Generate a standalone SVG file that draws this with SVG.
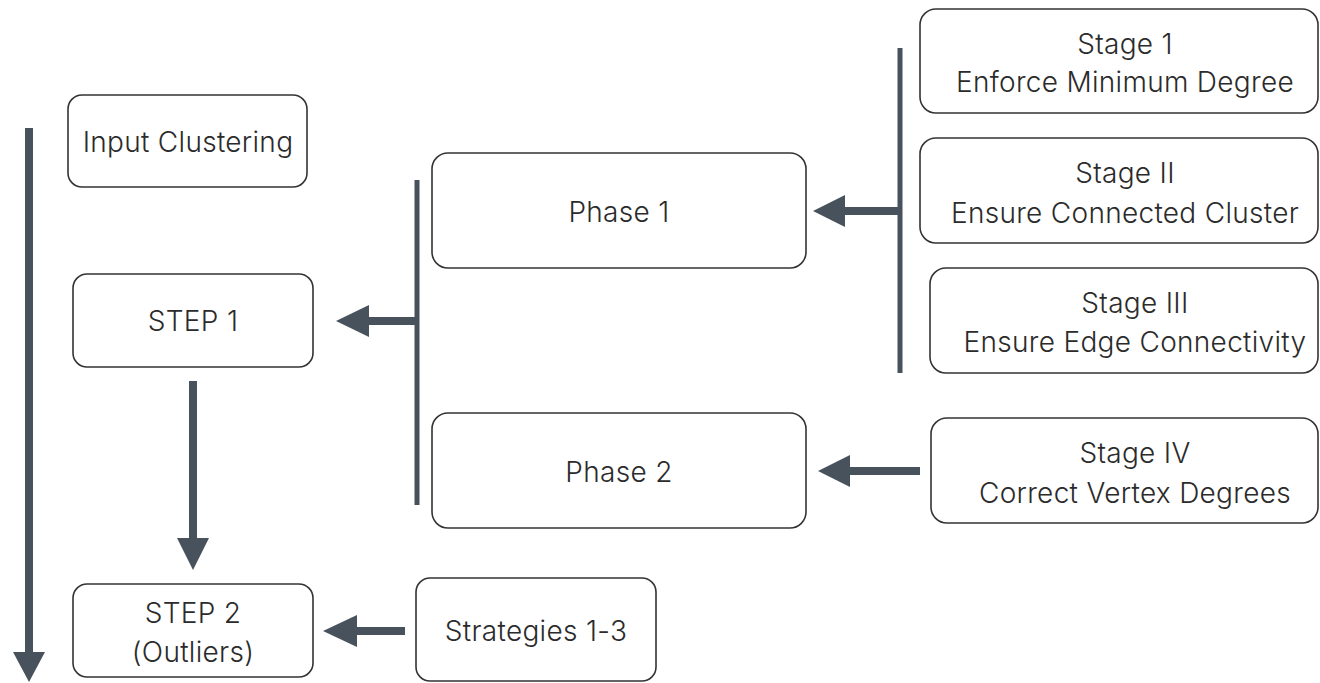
<svg xmlns="http://www.w3.org/2000/svg" width="1320" height="683" viewBox="0 0 1320 683">
<style>
.box{fill:#fff;stroke:#333;stroke-width:1.6}
.t{font-family:Inter,"Liberation Sans",sans-serif;font-size:28px;font-weight:300;letter-spacing:0.3px;fill:#2b2b2b;text-anchor:middle;dominant-baseline:central}
.ln{stroke:#47525c;fill:none}
.hd{fill:#47525c}
</style>
<rect width="1320" height="683" fill="#fff"/>
<g id="connectors">
<line class="ln" x1="29" y1="128" x2="29" y2="654" stroke-width="8"/>
<polygon class="hd" points="13,652 45,652 29,682"/>
<line class="ln" x1="193" y1="381" x2="193" y2="540" stroke-width="8"/>
<polygon class="hd" points="177,538 209,538 193,570"/>
<line class="ln" x1="405" y1="631" x2="355" y2="631" stroke-width="8"/>
<polygon class="hd" points="357,615 357,647 323,631"/>
<line class="ln" x1="417" y1="180" x2="417" y2="505" stroke-width="5"/>
<line class="ln" x1="417" y1="321" x2="366" y2="321" stroke-width="8"/>
<polygon class="hd" points="369,305 369,337 336,321"/>
<line class="ln" x1="900" y1="48" x2="900" y2="373" stroke-width="5"/>
<line class="ln" x1="898" y1="211" x2="843" y2="211" stroke-width="8"/>
<polygon class="hd" points="845,195 845,227 813,211"/>
<line class="ln" x1="920" y1="471" x2="848" y2="471" stroke-width="8"/>
<polygon class="hd" points="850,455 850,487 818,471"/>
</g>
<g id="input-clustering"><rect class="box" x="68" y="95" width="239" height="92" rx="14"/><text class="t" x="188" y="142">Input Clustering</text></g>
<g id="step1"><rect class="box" x="73" y="274" width="240" height="93" rx="14"/><text class="t" x="193" y="321">STEP 1</text></g>
<g id="step2"><rect class="box" x="73" y="584" width="240" height="93" rx="14"/><text class="t" x="193" y="613">STEP 2</text><text class="t" x="193" y="652">(Outliers)</text></g>
<g id="strategies"><rect class="box" x="416" y="578" width="240" height="103" rx="14"/><text class="t" x="536" y="631">Strategies 1-3</text></g>
<g id="phase1"><rect class="box" x="432" y="153" width="374" height="115" rx="16"/><text class="t" x="619" y="212">Phase 1</text></g>
<g id="phase2"><rect class="box" x="432" y="413" width="374" height="115" rx="16"/><text class="t" x="619" y="472">Phase 2</text></g>
<g id="stage1"><rect class="box" x="920" y="9" width="398" height="104" rx="16"/><text class="t" x="1125" y="44">Stage 1</text><text class="t" x="1125" y="82">Enforce Minimum Degree</text></g>
<g id="stage2"><rect class="box" x="920" y="138" width="398" height="105" rx="16"/><text class="t" x="1125" y="173">Stage II</text><text class="t" x="1125" y="213">Ensure Connected Cluster</text></g>
<g id="stage3"><rect class="box" x="930" y="268" width="388" height="105" rx="16"/><text class="t" x="1135" y="303">Stage III</text><text class="t" x="1135" y="342">Ensure Edge Connectivity</text></g>
<g id="stage4"><rect class="box" x="931" y="418" width="387" height="105" rx="16"/><text class="t" x="1135" y="453">Stage IV</text><text class="t" x="1135" y="493">Correct Vertex Degrees</text></g>
</svg>
